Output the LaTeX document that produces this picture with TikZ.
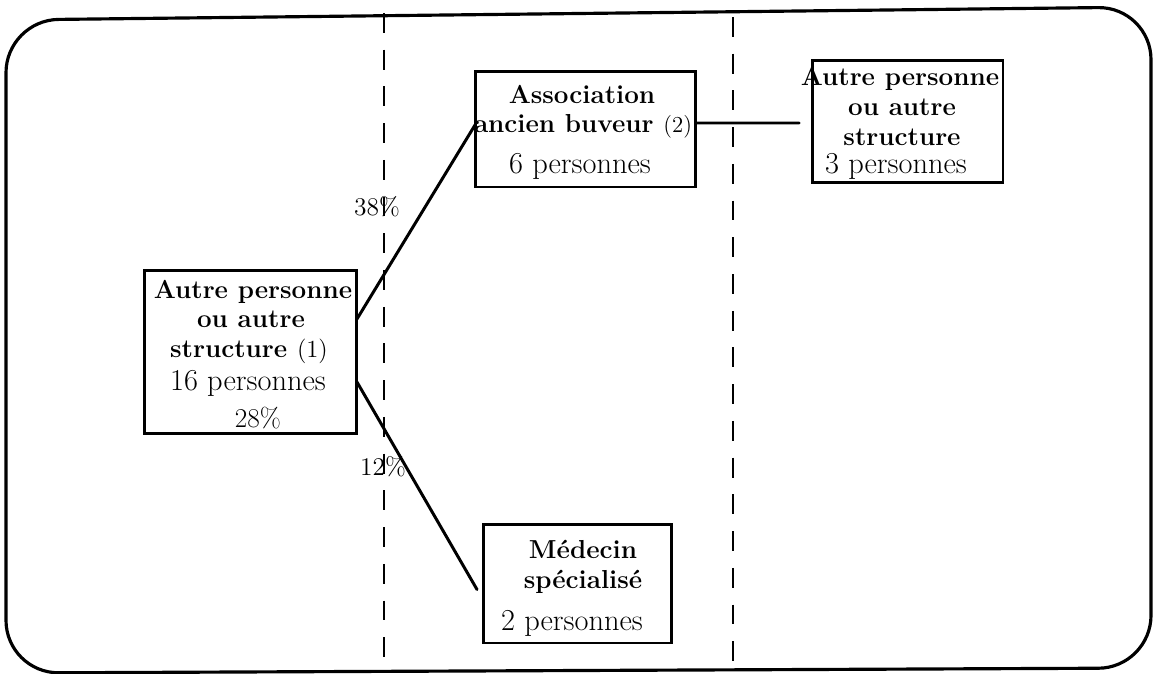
\documentclass[tikz,border=0pt]{standalone}
\usetikzlibrary{calc}
\begin{document}
\begin{tikzpicture}[x=0.02cm,y=-0.02cm,
  box/.style={draw, line width=1.7pt, inner sep=0pt, outer sep=0pt},
  lbl/.style={anchor=base, inner sep=0pt, font=\fontsize{17.3}{20}\selectfont},
  blbl/.style={anchor=base, inner sep=0pt, font=\fontsize{14.8}{17}\selectfont\bfseries},
  pct/.style={anchor=base, inner sep=0pt, font=\fontsize{14.5}{17}\selectfont},
  link/.style={line width=1.7pt, line cap=round},
  divider/.style={line width=1.6pt, dash pattern=on 11.3pt off 9.6pt}]
\useasboundingbox (0,0) rectangle (1155,673);

% outer frame
\draw[line width=1.8pt, rounded corners=30] (6,673) -- (6,20) -- (1151,7) -- (1151,668) -- cycle;

% column dividers
\draw[divider] (384,13) -- (384,671);
\draw[divider] (733,17) -- (733,671);

% boxes
\node[box, minimum width=4.26cm, minimum height=3.28cm] (lbox) at (250.5,352) {};
\node[box, minimum width=4.42cm, minimum height=2.32cm] (assoc) at (585.5,129) {};
\node[box, minimum width=3.82cm, minimum height=2.46cm] (rbox) at (907.5,121.5) {};
\node[box, minimum width=3.78cm, minimum height=2.38cm] (med) at (577.5,583.5) {};

% left box text
\node[blbl] (l1) at (253,298) {Autre personne};
\node[blbl] (l2) at (251,327) {ou autre};
\node[lbl] (l3) at (249,357) {\fontsize{14.8}{17}\selectfont\bfseries structure \mdseries\fontsize{14}{17}\selectfont(1)};
\node[lbl] (l4) at (248,390) {16 personnes};
\node[pct, font=\fontsize{15.5}{17}\selectfont] (l5) at (258,427) {28\%};

% association box text
\node[blbl] (a1) at (582,103) {Association};
\node[lbl] (a2) at (583,132) {\fontsize{14.8}{17}\selectfont\bfseries ancien buveur \mdseries\fontsize{13}{17}\selectfont(2)};
\node[lbl] (a3) at (580,173) {6 personnes};

% right box text
\node[blbl] (r1) at (900,85) {Autre personne};
\node[blbl] (r2) at (902,115) {ou autre};
\node[blbl] (r3) at (902,145) {structure};
\node[lbl] (r4) at (896,173) {3 personnes};

% specialist box text
\node[blbl] (m1) at (583,558) {Médecin};
\node[blbl] (m2) at (583,588) {spécialisé};
\node[lbl] (m3) at (572,630) {2 personnes};

% free ends of connectors
\coordinate (lowend) at ($(med.west)+(-6,6)$);
\coordinate (rend) at ($(rbox.west)+(-13,1.5)$);

% connectors
\draw[link] ($(lbox.east)+(0,-33)$) -- ($(assoc.west)+(0,-4)$);
\draw[link] ($(lbox.east)+(0,30)$) -- (lowend);
\draw[link] ($(assoc.east)+(0,-6)$) -- (rend);

% percentages
\node[pct] (p38) at (377,215) {38\%};
\node[pct] (p12) at (383,475) {12\%};
\end{tikzpicture}
\end{document}
